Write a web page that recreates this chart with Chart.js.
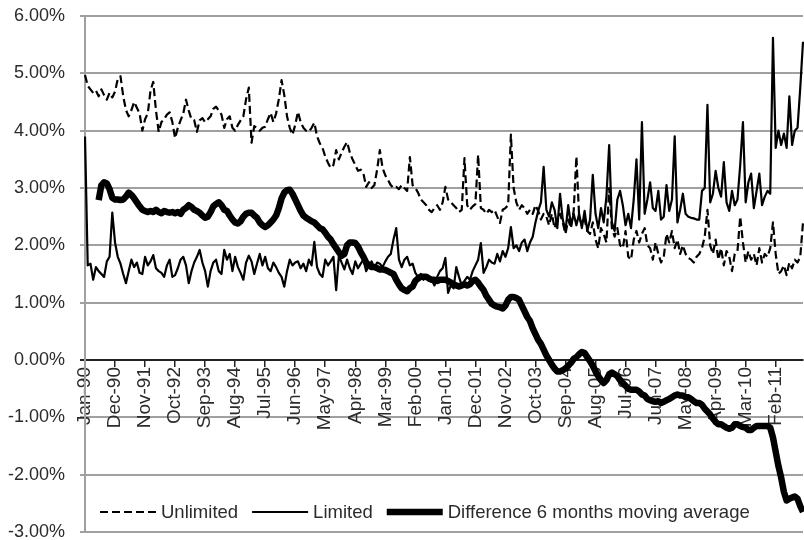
<!DOCTYPE html>
<html>
<head>
<meta charset="utf-8">
<script src="https://cdn.jsdelivr.net/npm/chart.js@4/dist/chart.umd.min.js"></script>
<style>
  html, body { margin: 0; padding: 0; background: #fff; }
  #wrap { width: 804px; height: 540px; position: relative; }
</style>
</head>
<body>
<div id="wrap"><canvas id="spread-chart"></canvas></div>
<script>
// monthly series, Jan-90 .. Dec-11, values in percent
const months = ['Jan', 'Feb', 'Mar', 'Apr', 'May', 'Jun', 'Jul', 'Aug', 'Sep', 'Oct', 'Nov', 'Dec'];
const years = ['90', '91', '92', '93', '94', '95', '96', '97', '98', '99', '00',
               '01', '02', '03', '04', '05', '06', '07', '08', '09', '10', '11'];
const labelEvery = 11;

const unlimited = [
    4.97, 4.78, 4.72, 4.66, 4.70, 4.60, 4.72, 4.62, 4.54, 4.66, 4.58, 4.68,
    4.90, 4.95, 4.60, 4.36, 4.25, 4.36, 4.50, 4.40, 4.30, 4.00, 4.20, 4.30,
    4.70, 4.85, 4.35, 3.98, 4.15, 4.20, 4.28, 4.32, 4.15, 3.87, 4.05, 4.18,
    4.30, 4.54, 4.35, 4.20, 4.18, 3.98, 4.18, 4.22, 4.15, 4.20, 4.25, 4.38,
    4.42, 4.35, 4.28, 4.05, 4.20, 4.25, 4.05, 4.00, 4.10, 4.18, 4.25, 4.55,
    4.75, 3.79, 4.08, 4.05, 4.00, 4.05, 4.07, 4.20, 4.31, 4.15, 4.30, 4.55,
    4.88, 4.62, 4.25, 4.05, 3.93, 4.10, 4.33, 4.15, 4.05, 4.00, 3.98, 4.05,
    4.14, 3.90, 3.78, 3.70, 3.55, 3.44, 3.35, 3.40, 3.66, 3.50, 3.62, 3.72,
    3.80, 3.62, 3.50, 3.40, 3.30, 3.32, 3.25, 3.02, 3.10, 3.00, 3.05, 3.32,
    3.66, 3.35, 3.22, 3.14, 3.05, 3.00, 3.02, 2.98, 3.05, 3.00, 2.95, 3.54,
    3.05, 3.00, 2.92, 2.80, 2.75, 2.70, 2.62, 2.58, 2.65, 2.70, 2.62, 2.75,
    3.02, 2.80, 2.75, 2.70, 2.65, 2.58, 2.62, 3.52, 2.70, 2.62, 2.68, 2.72,
    3.58, 2.65, 2.62, 2.55, 2.62, 2.58, 2.62, 2.50, 2.39, 2.62, 2.65, 2.70,
    3.93, 3.00, 2.75, 2.62, 2.70, 2.65, 2.55, 2.62, 2.55, 2.70, 2.60, 2.45,
    2.55, 2.50, 2.35, 2.55, 2.30, 2.45, 2.55, 2.40, 2.20, 2.45, 2.30, 2.60,
    3.55, 2.50, 2.35, 2.45, 2.25, 2.20, 2.40, 2.10, 1.95, 2.30, 2.20, 2.05,
    3.00, 2.30, 2.15, 2.30, 2.00, 1.95, 2.25, 1.80, 1.75, 2.10, 2.25, 2.05,
    2.20, 2.30, 2.00, 1.95, 1.75, 2.05, 1.85, 1.70, 1.80, 2.20, 2.05, 2.25,
    1.95, 2.10, 1.85, 2.00, 1.85, 1.78, 1.75, 1.70, 1.80, 1.85, 1.95, 2.15,
    2.62, 2.00, 1.85, 2.10, 1.75, 1.95, 1.65, 1.90, 1.80, 1.55, 1.85, 1.90,
    2.50, 2.05, 1.70, 1.90, 1.75, 1.85, 1.65, 1.95, 1.70, 1.85, 1.80, 1.95,
    2.40, 1.85, 1.50, 1.55, 1.65, 1.48, 1.70, 1.60, 1.75, 1.70, 1.80, 2.40
];

const limited = [
    3.90, 1.65, 1.68, 1.40, 1.62, 1.55, 1.50, 1.45, 1.72, 1.80, 2.57, 2.05,
    1.80, 1.68, 1.50, 1.34, 1.55, 1.75, 1.62, 1.70, 1.52, 1.50, 1.80, 1.65,
    1.72, 1.83, 1.60, 1.55, 1.52, 1.45, 1.65, 1.75, 1.45, 1.48, 1.60, 1.75,
    1.80, 1.65, 1.34, 1.55, 1.70, 1.80, 1.92, 1.70, 1.55, 1.28, 1.55, 1.70,
    1.75, 1.55, 1.50, 1.92, 1.75, 1.85, 1.55, 1.80, 1.62, 1.52, 1.40, 1.70,
    1.82, 1.72, 1.50, 1.68, 1.85, 1.65, 1.80, 1.60, 1.55, 1.70, 1.62, 1.52,
    1.45, 1.28, 1.55, 1.75, 1.65, 1.70, 1.72, 1.60, 1.68, 1.55, 1.75, 1.65,
    2.06, 1.62, 1.50, 1.45, 1.75, 1.65, 1.72, 1.80, 1.22, 1.82, 1.70, 1.58,
    1.75, 1.60, 1.50, 1.72, 1.60, 1.68, 1.75, 1.55, 1.65, 1.72, 1.60, 1.70,
    1.68, 1.62, 1.72, 1.80, 1.85, 2.10, 2.30, 1.75, 1.62, 1.75, 1.80, 1.65,
    1.68, 1.52, 1.45, 1.50, 1.40, 1.48, 1.38, 1.40, 1.30, 1.45, 1.55, 1.60,
    1.78, 1.17, 1.30, 1.25, 1.62, 1.45, 1.30, 1.38, 1.45, 1.40, 1.55, 1.65,
    1.75, 2.04, 1.52, 1.62, 1.75, 1.70, 1.68, 1.85, 1.72, 1.90, 1.80, 1.95,
    2.32, 1.95, 2.00, 1.90, 2.05, 2.10, 1.90, 2.05, 2.15, 2.40, 2.60, 2.75,
    3.37, 2.62, 2.50, 2.75, 2.62, 2.30, 2.90, 2.45, 2.25, 2.70, 2.35, 2.55,
    2.35, 2.55, 2.30, 2.60, 2.25, 2.45, 3.23, 2.55, 2.30, 2.65, 2.40, 2.85,
    3.75, 2.40, 2.25, 2.80, 2.95, 2.70, 2.35, 2.55, 2.30, 2.80, 3.50, 2.45,
    4.15, 2.55, 2.80, 3.10, 2.65, 2.60, 2.95, 2.45, 2.50, 3.05, 2.60, 2.80,
    3.90, 2.40, 2.62, 2.90, 2.55, 2.50, 2.48, 2.47, 2.45, 2.45, 2.95, 3.00,
    4.45, 2.75, 2.90, 3.30, 3.00, 2.85, 3.45, 2.75, 2.60, 2.95, 2.70, 2.80,
    3.40, 4.15, 2.75, 3.10, 3.25, 2.65, 2.95, 3.25, 2.70, 2.85, 2.95, 2.90,
    5.62, 3.70, 4.00, 3.75, 3.95, 3.70, 4.60, 3.75, 4.00, 4.05, 4.75, 5.55
];

const difference = [
    null, null, null, null, null, 2.79, 3.05, 3.10, 3.08, 2.98, 2.83, 2.80,
    2.80, 2.79, 2.80, 2.85, 2.92, 2.88, 2.82, 2.75, 2.68, 2.62, 2.60, 2.58,
    2.60, 2.58, 2.62, 2.58, 2.56, 2.60, 2.58, 2.57, 2.58, 2.56, 2.58, 2.55,
    2.62, 2.65, 2.70, 2.67, 2.62, 2.60, 2.57, 2.52, 2.48, 2.50, 2.58, 2.68,
    2.72, 2.75, 2.70, 2.62, 2.60, 2.52, 2.45, 2.40, 2.38, 2.42, 2.50, 2.55,
    2.57, 2.57, 2.52, 2.48, 2.40, 2.35, 2.32, 2.35, 2.40, 2.45, 2.52, 2.65,
    2.82, 2.92, 2.96, 2.97, 2.90, 2.80, 2.70, 2.60, 2.52, 2.48, 2.45, 2.42,
    2.40, 2.35, 2.30, 2.28, 2.22, 2.15, 2.10, 2.02, 1.95, 1.88, 1.82, 1.85,
    2.00, 2.05, 2.05, 2.04, 1.98, 1.88, 1.80, 1.70, 1.65, 1.62, 1.62, 1.60,
    1.58, 1.58, 1.57, 1.55, 1.52, 1.50, 1.40, 1.32, 1.25, 1.22, 1.20, 1.25,
    1.28, 1.38, 1.42, 1.45, 1.45, 1.45, 1.42, 1.40, 1.40, 1.38, 1.40, 1.40,
    1.40, 1.38, 1.35, 1.32, 1.30, 1.28, 1.30, 1.32, 1.30, 1.32, 1.38, 1.40,
    1.35, 1.28, 1.22, 1.12, 1.05, 0.98, 0.95, 0.93, 0.92, 0.90, 0.95, 1.05,
    1.10, 1.10, 1.08, 1.05, 0.95, 0.85, 0.75, 0.68, 0.55, 0.45, 0.35, 0.28,
    0.18, 0.08, 0.00, -0.08, -0.15, -0.20, -0.20, -0.18, -0.15, -0.10, -0.05, 0.02,
    0.05, 0.10, 0.14, 0.12, 0.05, -0.02, -0.10, -0.20, -0.28, -0.35, -0.40, -0.35,
    -0.25, -0.22, -0.25, -0.28, -0.35, -0.40, -0.45, -0.50, -0.52, -0.52, -0.52, -0.55,
    -0.60, -0.62, -0.68, -0.70, -0.72, -0.73, -0.72, -0.75, -0.73, -0.70, -0.68, -0.65,
    -0.62, -0.60, -0.62, -0.62, -0.65, -0.65, -0.68, -0.72, -0.75, -0.75, -0.78, -0.85,
    -0.90, -0.95, -1.02, -1.08, -1.12, -1.12, -1.15, -1.18, -1.20, -1.18, -1.12, -1.12,
    -1.15, -1.17, -1.18, -1.22, -1.22, -1.18, -1.15, -1.15, -1.15, -1.15, -1.15, -1.18,
    -1.35, -1.60, -1.85, -2.05, -2.30, -2.45, -2.42, -2.40, -2.38, -2.42, -2.55, -2.65
];

const seriesNames = ['Unlimited', 'Limited', 'Difference 6 months moving average'];

let labels = [];
years.forEach(y => months.forEach(m => labels.push(m + '-' + y)));

const fontFamily = '"Liberation Sans", Arial, sans-serif';
const textColor = '#2b2b2b';

// legend sits inside the plot, near the bottom, like the original
const innerLegend = {
    id: 'innerLegend',
    afterDraw(chart) {
        const c = chart.ctx;
        const area = chart.chartArea;
        let x = area.left + 15;
        const y = area.bottom - 20;
        c.save();
        c.font = '18.5px ' + fontFamily;
        c.fillStyle = textColor;
        c.textBaseline = 'middle';
        chart.data.datasets.forEach(ds => {
            c.beginPath();
            c.strokeStyle = '#000';
            c.lineWidth = ds.borderWidth;
            c.setLineDash(ds.borderDash || []);
            c.moveTo(x, y);
            c.lineTo(x + 56, y);
            c.stroke();
            x += 61;
            c.fillText(ds.label, x, y + 1);
            x += c.measureText(ds.label).width + 14;
        });
        c.restore();
    }
};

function drawChart() {
    let ctx = document.getElementById('spread-chart');

    let data = {
        labels: labels,
        datasets: [{
            label: seriesNames[0],
            data: unlimited,
            borderColor: '#000',
            borderWidth: 2.2,
            borderDash: [8, 4],
            order: 2
        }, {
            label: seriesNames[1],
            data: limited,
            borderColor: '#000',
            borderWidth: 2.2,
            order: 1
        }, {
            label: seriesNames[2],
            data: difference,
            borderColor: '#000',
            borderWidth: 6.5,
            order: 0
        }]
    };

    new Chart(ctx, {
        type: 'line',
        data: data,
        plugins: [innerLegend],
        options: {
            responsive: true,
            maintainAspectRatio: false,
            animation: false,
            elements: {
                point: { radius: 0 },
                line: { tension: 0, borderJoinStyle: 'round', fill: false }
            },
            layout: {
                padding: { top: 16, right: 1, bottom: 8, left: 0 }
            },
            plugins: {
                legend: { display: false },
                tooltip: { enabled: false }
            },
            scales: {
                x: {
                    position: { y: 0 },
                    afterBuildTicks: axis => {
                        axis.ticks = axis.ticks.filter(t => t.value % labelEvery === 0);
                    },
                    afterFit: axis => {
                        axis.paddingLeft = 0;
                        axis.paddingRight = 0;
                    },
                    grid: {
                        drawOnChartArea: false,
                        color: '#222',
                        lineWidth: 1.5,
                        tickLength: 6
                    },
                    border: { color: '#222', width: 2 },
                    ticks: {
                        autoSkip: false,
                        minRotation: 90,
                        maxRotation: 90,
                        padding: 1,
                        color: textColor,
                        font: { family: fontFamily, size: 19 }
                    }
                },
                y: {
                    min: -3,
                    max: 6,
                    afterFit: axis => {
                        axis.width = 85;
                        axis.paddingTop = 0;
                        axis.paddingBottom = 0;
                    },
                    grid: {
                        color: c => c.tick && c.tick.value === 0 ? '#222' : '#a0a0a0',
                        lineWidth: 2,
                        tickLength: 5
                    },
                    border: { color: '#a0a0a0', width: 2 },
                    ticks: {
                        stepSize: 1,
                        padding: 15,
                        color: textColor,
                        font: { family: fontFamily, size: 18 },
                        callback: v => v.toFixed(2) + '%'
                    }
                }
            }
        }
    });
}

drawChart();
</script>
</body>
</html>
